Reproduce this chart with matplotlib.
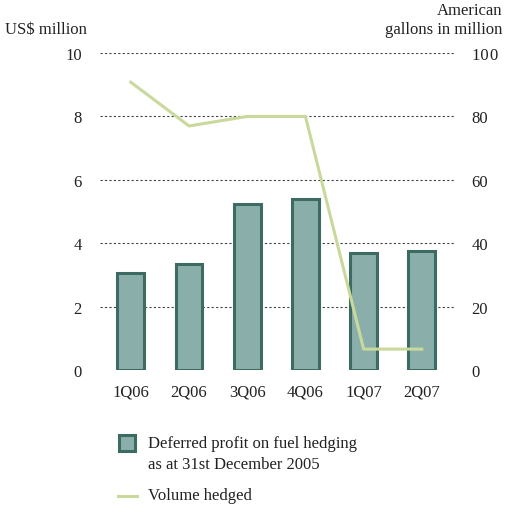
import matplotlib
matplotlib.use("Agg")
import matplotlib.pyplot as plt
from matplotlib.patches import Rectangle
from matplotlib.lines import Line2D

categories = ["1Q06", "2Q06", "3Q06", "4Q06", "1Q07", "2Q07"]
deferred_profit = [3.05, 3.34, 5.24, 5.39, 3.69, 3.75]
volume_hedged = [90.8, 77.0, 80.0, 80.0, 6.6, 6.6]
left_ticks = [0, 2, 4, 6, 8, 10]
right_ticks = [0, 20, 40, 60, 80, 100]
right_labels = ["0", "20", "40", "60", "80", "10\u200a0"]

plt.rcParams['font.family'] = ['Liberation Serif', 'DejaVu Serif']
FS = 12
bar_fill = "#8aafaa"
bar_edge = "#3d6b62"
line_col = "#c9d99c"
txt = "#222222"

fig = plt.figure(figsize=(5.05, 5.10), dpi=100)
ax = fig.add_axes([0.198, 0.2725, 0.703, 0.6215])
x = list(range(len(categories)))
ax.bar(x, deferred_profit, width=0.46, color=bar_fill, edgecolor=bar_edge, linewidth=2.2, zorder=3)
ax.set_ylim(0, 10)
ax.set_xlim(-0.53, 5.57)
for t in left_ticks[1:]:
    ax.axhline(t, color="#444444", linestyle=(0, (2, 2)), linewidth=0.8, zorder=1)
for s in ax.spines.values():
    s.set_visible(False)
ax.set_yticks(left_ticks)
ax.set_yticklabels([str(v) for v in left_ticks], fontsize=FS, color=txt)
ax.tick_params(axis='y', length=0, pad=13)
ax.set_xticks(x)
ax.set_xticklabels(categories, fontsize=FS, color=txt)
ax.tick_params(axis='x', length=0, pad=10)

ax2 = ax.twinx()
ax2.plot(x, volume_hedged, color=line_col, linewidth=2.2, zorder=4)
ax2.set_ylim(0, 100)
for s in ax2.spines.values():
    s.set_visible(False)
ax2.set_yticks(right_ticks)
ax2.set_yticklabels(right_labels, fontsize=FS, color=txt)
ax2.tick_params(axis='y', length=0, pad=12)

fig.text(5/505, 1 - 30/510, "US$ million", fontsize=FS, color=txt, ha="left", va="center")
fig.text(502/505, 1 - 11/510, "American", fontsize=FS, color=txt, ha="right", va="center")
fig.text(502/505, 1 - 30/510, "gallons in million", fontsize=FS, color=txt, ha="right", va="center")

# legend
fig.add_artist(Rectangle((119/505, 1 - 452/510), 16/505, 16/510, transform=fig.transFigure,
                         facecolor=bar_fill, edgecolor=bar_edge, linewidth=2.2))
fig.text(148/505, 1 - 444/510, "Deferred profit on fuel hedging", fontsize=FS, color=txt, ha="left", va="center")
fig.text(148/505, 1 - 465/510, "as at 31st December 2005", fontsize=FS, color=txt, ha="left", va="center")
fig.add_artist(Line2D([118/505, 137/505], [1 - 497/510, 1 - 497/510], transform=fig.transFigure,
                      color=line_col, linewidth=2.2))
fig.text(148/505, 1 - 496/510, "Volume hedged", fontsize=FS, color=txt, ha="left", va="center")

fig.savefig("out.png", dpi=100)
